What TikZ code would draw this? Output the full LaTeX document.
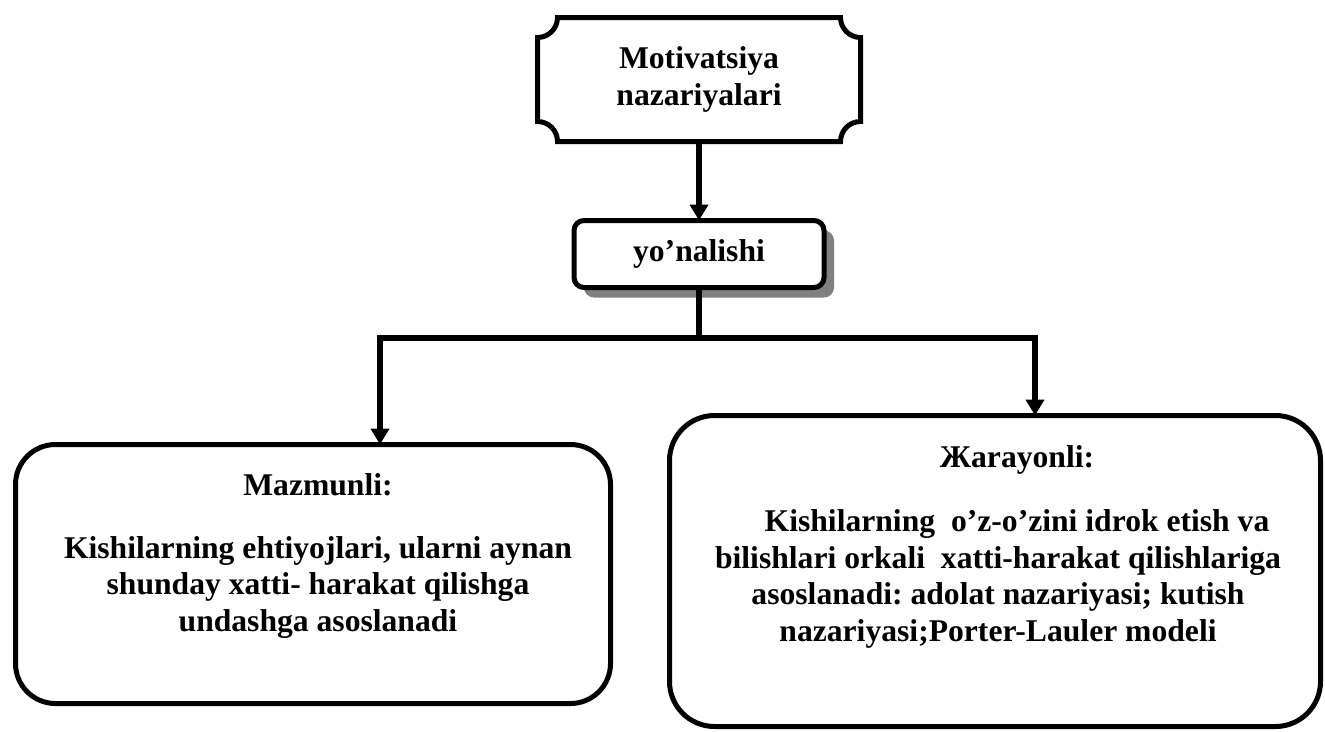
\documentclass[tikz,border=0pt]{standalone}
\usepackage{fontspec}
\setmainfont{Liberation Serif}
\usetikzlibrary{positioning,arrows.meta,shadows}
\definecolor{ink}{HTML}{000000}
\definecolor{shade}{HTML}{808080}
\frenchspacing

\begin{document}
\begin{tikzpicture}[
  % All the text is one bold serif size; boxes only carry the border.
  words/.style  = {font=\bfseries\fontsize{18}{21}\selectfont, align=center,
                   text=ink, inner sep=0pt},
  plaque/.style = {words, minimum width=64.6mm, minimum height=24.8mm, outer sep=0pt},
  edge/.style   = {draw=ink, line width=1mm},
  % The shadow sits below-right of the small tab only.
  tab/.style    = {words, edge, fill=white, rounded corners=2mm, outer sep=0pt,
                   minimum width=50mm, minimum height=13.4mm,
                   drop shadow={shadow xshift=2mm, shadow yshift=-2mm, fill=shade, opacity=1}},
  panel/.style  = {edge, rounded corners=8mm, outer sep=0pt},
  hop/.style    = {-{Triangle[width=3.6mm,length=3.2mm]}, line width=1.1mm, draw=ink},
  link/.style   = {line width=1.1mm, draw=ink},
]
\useasboundingbox (0,0) rectangle (265mm,-146.2mm);

% ------------------------------------------------------------------ theory --
\node[plaque] (theory) at (139.8mm,-15.9mm) {Motivatsiya\\nazariyalari};
\draw[edge] ([xshift=4mm]theory.north west) -- ([xshift=-4mm]theory.north east)
  arc[start angle=180, end angle=270, radius=4mm]
  -- ([yshift=4mm]theory.south east)
  arc[start angle=90, end angle=180, radius=4mm]
  -- ([xshift=4mm]theory.south west)
  arc[start angle=0, end angle=90, radius=4mm]
  -- ([yshift=-4mm]theory.north west)
  arc[start angle=270, end angle=360, radius=4mm] -- cycle;

% --------------------------------------------------------------------- way --
\node[tab, below=15.8mm of theory] (way) {yo’nalishi};
\coordinate[below=10.1mm of way] (fork);

% ----------------------------------------------------------------- content --
\node[panel, minimum width=119mm, minimum height=51.8mm] (content) at (62.6mm,-114.8mm) {};
\node[words] (contenttxt) at ([xshift=1mm,yshift=3.6mm]content.center)
  {Mazmunli:\\[5.2mm]
   Kishilarning ehtiyojlari, ularni aynan\\
   shunday xatti- harakat qilishga\\
   undashga asoslanadi};

% ----------------------------------------------------------------- process --
\node[panel, rounded corners=9mm, minimum width=130.2mm, minimum height=62.2mm] (process) at (199mm,-114.2mm) {};
\node[words] (processtxt) at ([xshift=0.6mm,yshift=4.8mm]process.center)
  {\hspace*{7.6mm}Жarayonli:\\[5.4mm]
   \hspace*{7.6mm}Kishilarning~ o’z-o’zini idrok etish va\\
   bilishlari orkali~ xatti-harakat qilishlariga\\
   asoslanadi: adolat nazariyasi; kutish\\
   nazariyasi;Porter-Lauler modeli};

% ------------------------------------------------------------------ arrows --
\draw[hop]  (theory) -- (way);
\draw[link] (way) -- (fork);
\draw[hop]  (fork) -| ([xshift=13.4mm]content.north);
\draw[hop]  (fork) -| ([xshift=8mm]process.north);

\end{tikzpicture}
\end{document}
